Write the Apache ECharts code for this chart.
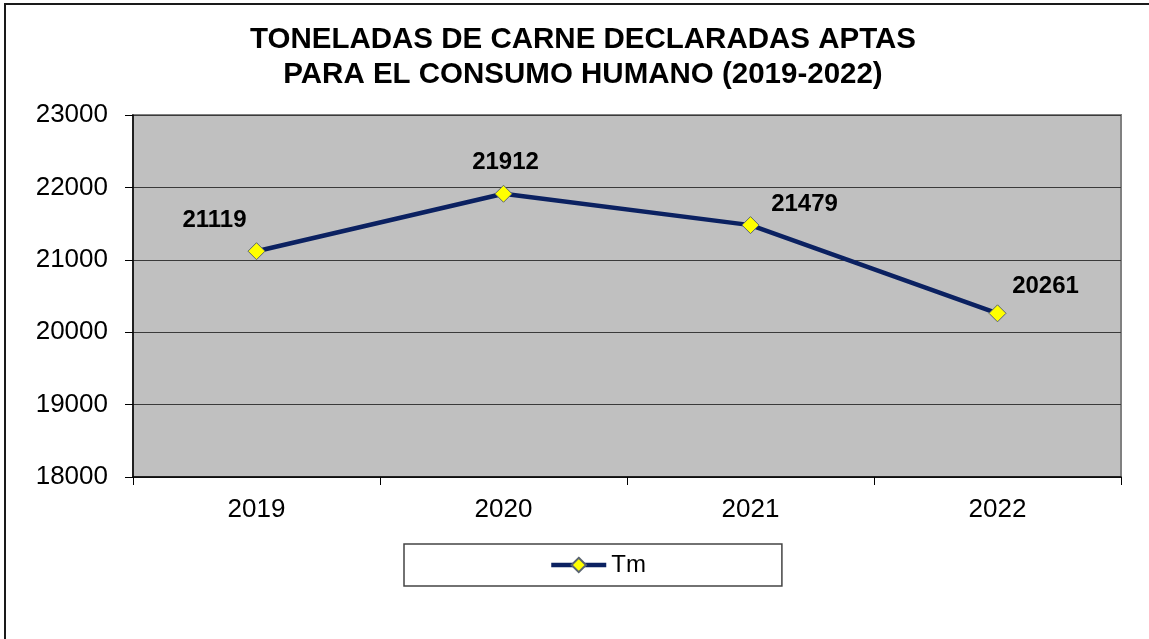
<!DOCTYPE html>
<html>
<head>
<meta charset="utf-8">
<script src="https://cdn.jsdelivr.net/npm/echarts@6/dist/echarts.min.js"></script>
<style>
  html, body { margin: 0; padding: 0; background: #fff; }
  #chart { width: 1149px; height: 639px; }
</style>
</head>
<body>
<div id="chart"></div>
<script>
// datos
const years = ['2019', '2020', '2021', '2022'];
const toneladas = [21119, 21912, 21479, 20261];
const yTicks = { min: 18000, max: 23000, step: 1000 };

// desplazamiento de cada etiqueta respecto al marcador
const labelOffsets = [[-42, -31], [2, -31], [54, -21], [48, -27]];

const FONT = '"Liberation Sans", Arial, sans-serif';

const chart = echarts.init(document.getElementById('chart'));

const option = {
  backgroundColor: '#ffffff',
  animation: false,
  textStyle: { fontFamily: FONT },
  graphic: [
    {
      // marco exterior
      type: 'rect',
      shape: { x: 5, y: 4, width: 1300, height: 800 },
      style: { fill: 'none', stroke: '#1a1a1a', lineWidth: 2 },
      silent: true
    },
    {
      type: 'text',
      x: 583,
      y: 22,
      style: {
        text: 'TONELADAS DE CARNE DECLARADAS APTAS\nPARA EL CONSUMO HUMANO (2019-2022)',
        font: 'bold 29.5px ' + FONT,
        fill: '#000',
        align: 'center',
        verticalAlign: 'top',
        lineHeight: 35
      }
    }
  ],
  grid: {
    left: 133,
    right: 28,
    top: 115,
    bottom: 162,
    show: true,
    backgroundColor: '#C0C0C0',
    borderColor: '#808080',
    borderWidth: 2
  },
  legend: {
    left: 404,
    top: 544,
    padding: [9, 136, 9, 145],
    borderColor: '#444',
    borderWidth: 1.5,
    itemWidth: 55,
    itemHeight: 18,
    lineStyle: { width: 4.5 },
    textStyle: { fontSize: 24, color: '#000', fontFamily: FONT, lineHeight: 24 },
    data: ['Tm']
  },
  xAxis: {
    type: 'category',
    data: years,
    boundaryGap: true,
    axisLine: { show: true, lineStyle: { color: '#000', width: 1.5 } },
    axisTick: { show: true, length: 8, lineStyle: { color: '#000' } },
    axisLabel: { fontSize: 26, color: '#000', margin: 20, fontFamily: FONT },
    splitLine: { show: false }
  },
  yAxis: {
    type: 'value',
    min: yTicks.min,
    max: yTicks.max,
    interval: yTicks.step,
    axisLine: { show: true, lineStyle: { color: '#000', width: 1.5 } },
    axisTick: { show: true, length: 8, lineStyle: { color: '#000' } },
    axisLabel: {
      fontSize: 26,
      color: '#000',
      margin: 25,
      fontFamily: FONT,
      formatter: (v) => String(v)
    },
    splitLine: { show: true, lineStyle: { color: '#3a3a3a', width: 1.2 } }
  },
  series: [
    {
      name: 'Tm',
      type: 'line',
      data: toneladas.map((v, i) => ({
        value: v,
        label: { offset: labelOffsets[i] }
      })),
      symbol: 'diamond',
      symbolSize: 17,
      lineStyle: { color: '#0B2161', width: 4.5 },
      itemStyle: { color: '#FFFF00', borderColor: '#5a6470', borderWidth: 1 },
      label: {
        show: true,
        position: 'inside',
        fontSize: 24,
        fontWeight: 'bold',
        color: '#000',
        fontFamily: FONT
      }
    }
  ]
};

chart.setOption(option);
</script>
</body>
</html>
